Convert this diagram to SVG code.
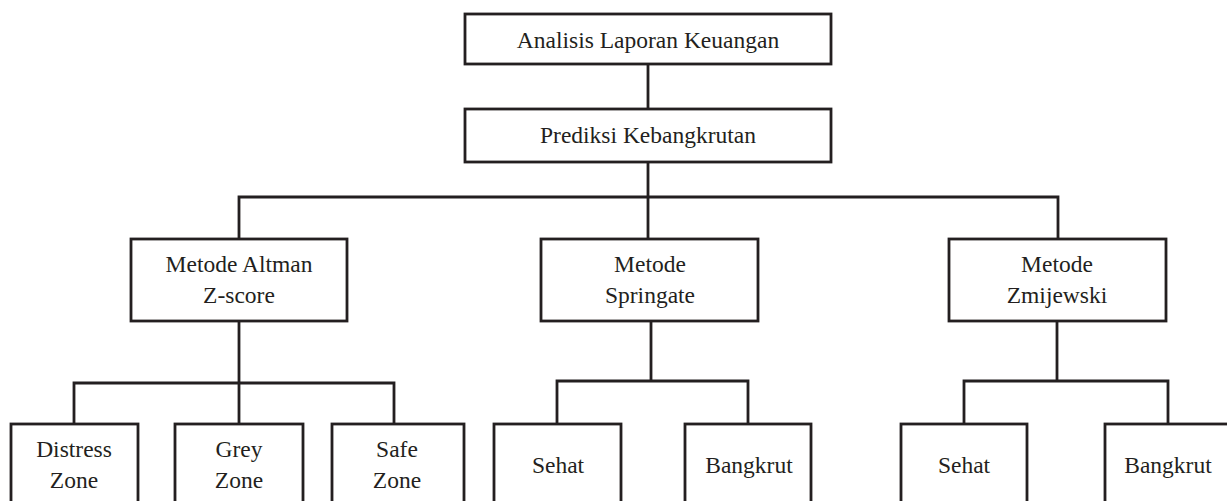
<svg xmlns="http://www.w3.org/2000/svg" width="1227" height="501" viewBox="0 0 1227 501">
<style>
.box{fill:#fff;stroke:#231f20;stroke-width:2.8}
.ln{fill:none;stroke:#231f20;stroke-width:2.8}
.t{font-family:"Liberation Serif",serif;font-size:23.5px;fill:#231f20;text-anchor:middle}
</style>
<rect width="1227" height="501" fill="#fff"/>
<g id="connectors">
<path class="ln" d="M648,64 V109"/>
<path class="ln" d="M648,162 V239"/>
<path class="ln" d="M239,239 V197 H1058 V239"/>
<path class="ln" d="M239,321 V424"/>
<path class="ln" d="M74,424 V383 H394 V424"/>
<path class="ln" d="M651,321 V381"/>
<path class="ln" d="M557,424 V381 H748 V424"/>
<path class="ln" d="M1057,321 V381"/>
<path class="ln" d="M964,424 V381 H1168 V424"/>
</g>
<g id="n-analisis"><rect class="box" x="465" y="14" width="366" height="50"/><text class="t" font-family="Liberation Serif" x="648" y="48">Analisis Laporan Keuangan</text></g>
<g id="n-prediksi"><rect class="box" x="465" y="109" width="366" height="53"/><text class="t" x="648" y="143">Prediksi Kebangkrutan</text></g>
<g id="n-altman"><rect class="box" x="131" y="239" width="216" height="82"/><text class="t" x="239" y="272">Metode Altman</text><text class="t" x="239" y="303">Z-score</text></g>
<g id="n-springate"><rect class="box" x="541" y="239" width="217" height="82"/><text class="t" x="650" y="272">Metode</text><text class="t" x="650" y="303">Springate</text></g>
<g id="n-zmijewski"><rect class="box" x="949" y="239" width="217" height="82"/><text class="t" x="1057" y="272">Metode</text><text class="t" x="1057" y="303">Zmijewski</text></g>
<g id="n-distress"><rect class="box" x="11" y="424" width="127" height="90"/><text class="t" x="74" y="457">Distress</text><text class="t" x="74" y="488">Zone</text></g>
<g id="n-grey"><rect class="box" x="175" y="424" width="128" height="90"/><text class="t" x="239" y="457">Grey</text><text class="t" x="239" y="488">Zone</text></g>
<g id="n-safe"><rect class="box" x="332" y="424" width="132" height="90"/><text class="t" x="397" y="457">Safe</text><text class="t" x="397" y="488">Zone</text></g>
<g id="n-sehat1"><rect class="box" x="494" y="424" width="127" height="90"/><text class="t" x="558" y="473">Sehat</text></g>
<g id="n-bangkrut1"><rect class="box" x="685" y="424" width="126" height="90"/><text class="t" x="749" y="473">Bangkrut</text></g>
<g id="n-sehat2"><rect class="box" x="901" y="424" width="126" height="90"/><text class="t" x="964" y="473">Sehat</text></g>
<g id="n-bangkrut2"><rect class="box" x="1105" y="424" width="130" height="90"/><text class="t" x="1168" y="473">Bangkrut</text></g>
</svg>
